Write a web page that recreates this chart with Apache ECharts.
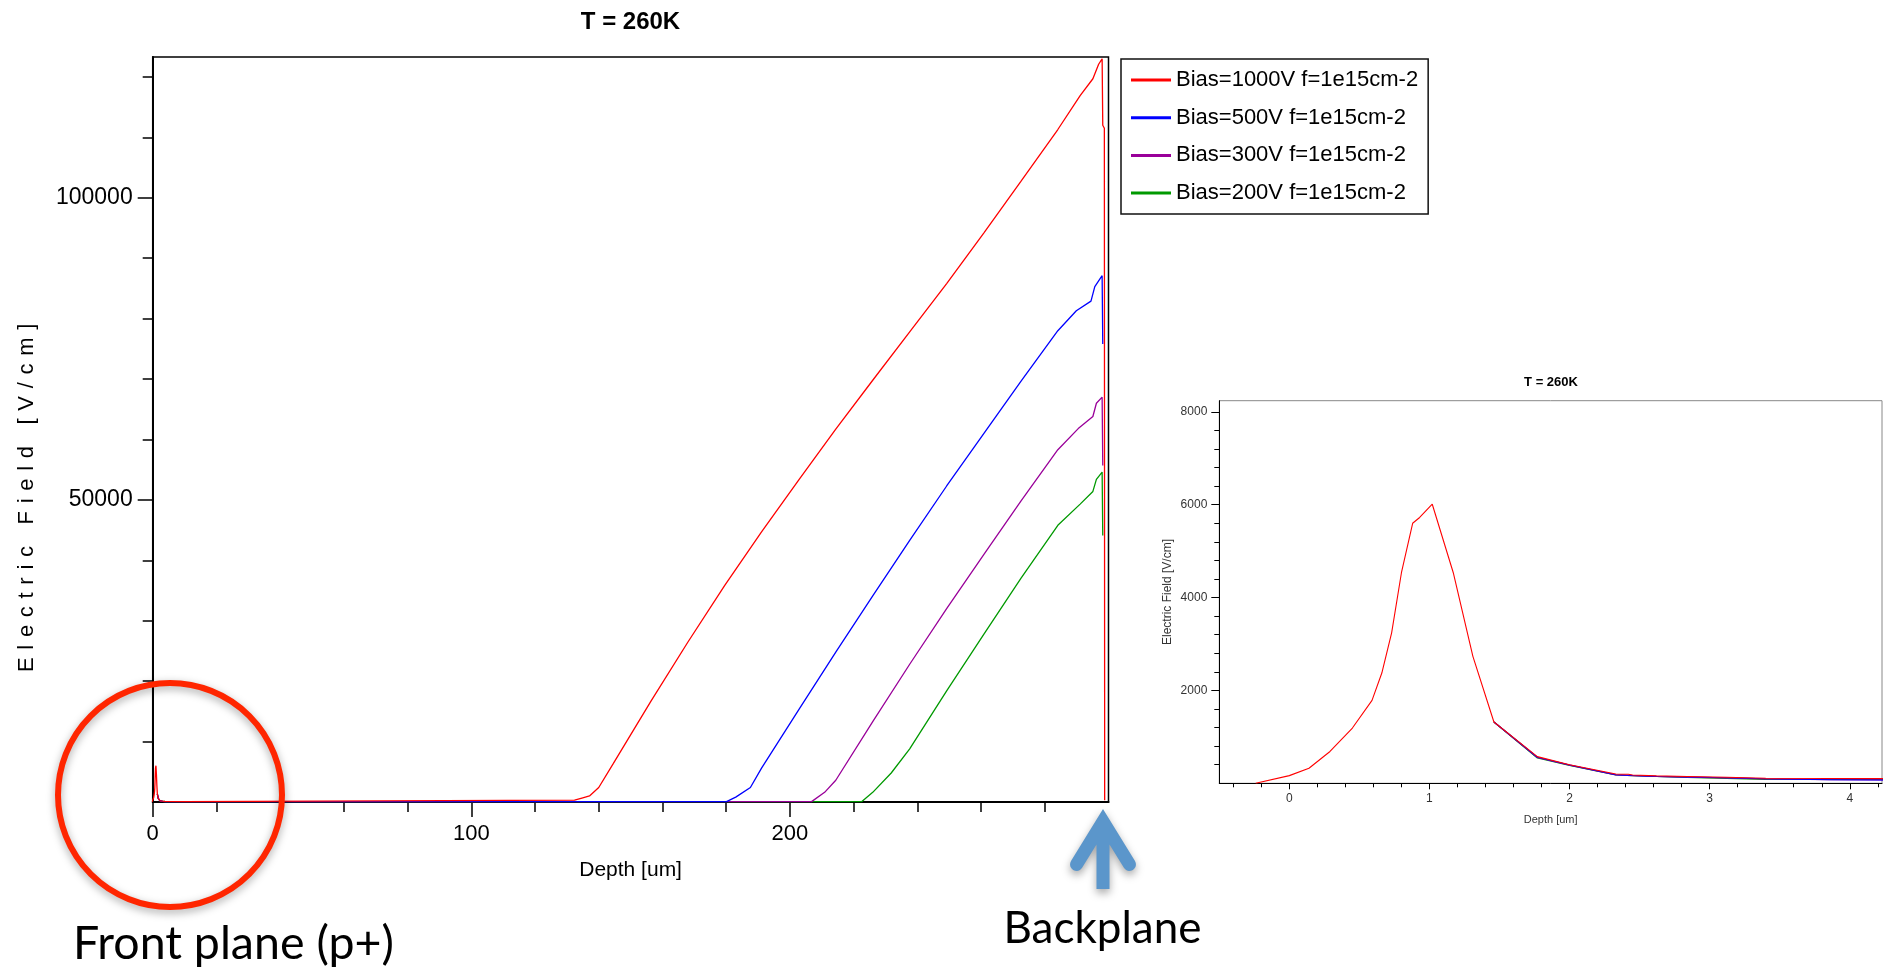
<!DOCTYPE html>
<html><head><meta charset="utf-8">
<script src="https://cdn.jsdelivr.net/npm/echarts@6/dist/echarts.min.js"></script>
<style>html,body{margin:0;padding:0;background:#fff}#c{position:absolute;left:0;top:0;width:1883px;height:968px}
#yl{position:absolute;left:0;top:0;width:60px;height:968px;letter-spacing:7.7px}</style>
</head><body><div id="c"></div><div id="yl"></div>
<script>
// ---------- data ----------
const seriesNames = ['Bias=1000V f=1e15cm-2', 'Bias=500V f=1e15cm-2', 'Bias=300V f=1e15cm-2', 'Bias=200V f=1e15cm-2'];
const seriesColors = ['#ff0000', '#0000ff', '#990099', '#009900'];

// p+ front-side peak (only the red curve is visible there)
const frontDepth = [-0.24, 0, 0.14, 0.29, 0.45, 0.59, 0.66, 0.73, 0.80, 0.88, 0.93, 1.02, 1.17, 1.31];
const frontField = [0, 165, 325, 685, 1190, 1785, 2375, 3240, 4535, 5600, 5725, 6010, 4535, 2735];

const redDepth = [1.46, 1.77, 2.0, 2.33, 2.42, 2.45, 2.62, 2.84, 3.12, 3.40, 3.86, 4.3, 10, 132.4, 135, 137.1, 140, 144.6, 156.3, 167.9, 179.5, 191.1, 202.8, 214.4, 226, 237.6, 249.2, 260.9, 272.5, 284.1, 291.1, 295.1, 296.9, 298.0, 298.2, 298.7, 298.8];
const redField = [1320, 575, 400, 200, 195, 180, 160, 145, 130, 110, 103, 100, 60, 300, 700, 1000, 2400, 6400, 16600, 26400, 35800, 44700, 53300, 61700, 69800, 77800, 85800, 94200, 102700, 111300, 116900, 119700, 122100, 123000, 112000, 111500, 300];

const blueDepth = [1.46, 1.77, 2.0, 2.33, 2.45, 2.62, 2.84, 3.12, 3.40, 3.86, 4.3, 10, 180.1, 183, 187.6, 191.1, 202.8, 214.4, 226, 237.6, 249.2, 260.9, 272.5, 284.1, 289.9, 294.5, 295.7, 298.0, 298.2];
const blueField = [1320, 560, 395, 185, 168, 150, 136, 120, 98, 78, 72, 60, 60, 800, 2400, 5600, 15300, 24800, 34100, 43300, 52300, 61000, 69600, 78000, 81300, 82900, 85300, 87100, 75800];

const purpleDepth = [1.46, 1.77, 2.0, 2.33, 2.45, 2.62, 2.84, 3.12, 3.40, 3.86, 4.3, 10, 206.8, 210.9, 214.4, 226, 237.6, 249.2, 260.9, 272.5, 284.1, 290.5, 295.1, 296.2, 298.0, 298.2];
const purpleField = [1320, 555, 392, 182, 165, 148, 133, 117, 95, 75, 70, 60, 60, 1600, 3600, 13300, 22800, 32000, 41000, 49800, 58300, 61800, 63800, 66000, 67000, 55700];

const greenDepth = [1.46, 1.77, 2.0, 2.33, 2.45, 2.62, 2.84, 3.12, 3.40, 3.86, 4.3, 10, 222.5, 226, 231.8, 237.6, 249.2, 260.9, 272.5, 284.1, 291.1, 295.1, 296.2, 298.0, 298.2];
const greenField = [1320, 545, 385, 178, 162, 146, 125, 105, 85, 82, 80, 60, 60, 1600, 4800, 8800, 18400, 27800, 37000, 45800, 49300, 51400, 53400, 54600, 44100];

// tick values
const mainXMajor = [0, 100, 200];
const mainXMinor = [20, 40, 60, 80, 120, 140, 160, 180, 220, 240, 260, 280];
const mainYMajor = [50000, 100000];
const mainYMinor = [10000, 20000, 30000, 40000, 60000, 70000, 80000, 90000, 110000, 120000];
const insetXMajor = [0, 1, 2, 3, 4];
const insetXMinor = [-0.4, -0.2, 0.2, 0.4, 0.6, 0.8, 1.2, 1.4, 1.6, 1.8, 2.2, 2.4, 2.6, 2.8, 3.2, 3.4, 3.6, 3.8, 4.2];
const insetYMajor = [2000, 4000, 6000, 8000];
const insetYMinor = [400, 800, 1200, 1600, 2400, 2800, 3200, 3600, 4400, 4800, 5200, 5600, 6400, 6800, 7200, 7600];

// ---------- build ----------
const FF = "'Liberation Sans', Arial, sans-serif";
function pairs(dx, dy) { return dx.map((d, i) => [d, dy[i]]); }
const allData = [
  pairs(frontDepth.concat(redDepth), frontField.concat(redField)),
  pairs(blueDepth, blueField),
  pairs(purpleDepth, purpleField),
  pairs(greenDepth, greenField)
];
const drawOrder = [3, 2, 1, 0]; // red drawn last (on top)
const series = [];
[0, 1].forEach(g => {
  drawOrder.forEach(i => {
    series.push({
      type: 'line', name: seriesNames[i], xAxisIndex: g * 2, yAxisIndex: g * 2,
      data: allData[i], showSymbol: false, symbol: 'none', clip: true,
      lineStyle: { color: seriesColors[i], width: g === 0 ? 1.3 : 1.1 },
      itemStyle: { color: seriesColors[i] }, emphasis: { disabled: true }
    });
  });
});

const plainNum = v => String(v);
function majorAxis(grid, min, max, ticks, len, labelOpt, extra) {
  return Object.assign({
    type: 'value', gridIndex: grid, min: min, max: max,
    axisLine: { show: true, onZero: false, lineStyle: { color: '#000', width: grid === 0 ? 2 : 1 } },
    axisTick: { show: true, customValues: ticks, length: len, lineStyle: { color: '#000', width: grid === 0 ? 1.5 : 1 } },
    axisLabel: Object.assign({ show: true, customValues: ticks, fontFamily: FF, formatter: plainNum }, labelOpt),
    splitLine: { show: false }
  }, extra || {});
}
function minorAxis(grid, min, max, ticks, len, pos) {
  return {
    type: 'value', gridIndex: grid, min: min, max: max, position: pos,
    axisLine: { show: false, onZero: false },
    axisTick: { show: true, customValues: ticks, length: len, lineStyle: { color: '#000', width: grid === 0 ? 1.5 : 1 } },
    axisLabel: { show: false }, splitLine: { show: false }
  };
}

// arrow polygon (annotation)
function arc(cx, cy, r, a0, a1, n) {
  const pts = [];
  for (let k = 0; k <= n; k++) { const a = (a0 + (a1 - a0) * k / n) * Math.PI / 180; pts.push([cx + r * Math.cos(a), cy + r * Math.sin(a)]); }
  return pts;
}
const arrowPts = [[1103, 809]]
  .concat(arc(1129.45, 864.4, 6.5, -31.5, 148.5, 10))
  .concat([[1109.5, 844.4], [1109.5, 889], [1096.5, 889], [1096.5, 844.4]])
  .concat(arc(1076.55, 864.4, 6.5, 31.5, 211.5, 10));

const option = {
  animation: false,
  backgroundColor: '#fff',
  title: [
    { text: 'T = 260K', left: 630.5, top: 10, textAlign: 'center', padding: 0,
      textStyle: { fontSize: 24, fontWeight: 'bold', fontFamily: FF, color: '#000' } },
    { text: 'T = 260K', left: 1551, top: 376, textAlign: 'center', padding: 0,
      textStyle: { fontSize: 13, fontWeight: 'bold', fontFamily: FF, color: '#000' } }
  ],
  legend: {
    data: seriesNames, orient: 'vertical', left: 1121, top: 59,
    icon: 'rect', itemWidth: 40, itemHeight: 3, itemGap: 15.7,
    padding: [10, 10, 10, 10], borderColor: '#111', borderWidth: 1.5, backgroundColor: '#fff',
    textStyle: { fontSize: 22, lineHeight: 22, color: '#000', fontFamily: FF },
    selectedMode: false
  },
  grid: [
    { left: 152.7, top: 57, right: 774.5, bottom: 166, show: true, borderColor: '#000', borderWidth: 1.5, containLabel: false },
    { left: 1219.3, top: 400.7, right: 1, bottom: 184.7, show: true, borderColor: '#888', borderWidth: 1, containLabel: false }
  ],
  xAxis: [
    majorAxis(0, 0, 300, mainXMajor, 15, { margin: 21, fontSize: 22, color: '#000' },
      { position: 'bottom', name: 'Depth [um]', nameLocation: 'middle', nameGap: 58,
        nameTextStyle: { fontSize: 21, fontFamily: FF, color: '#000' } }),
    minorAxis(0, 0, 300, mainXMinor, 10, 'bottom'),
    majorAxis(1, -0.5, 4.23, insetXMajor, 6, { margin: 9, fontSize: 12, color: '#333' },
      { position: 'bottom', name: 'Depth [um]', nameLocation: 'middle', nameGap: 31,
        nameTextStyle: { fontSize: 11, fontFamily: FF, color: '#333' } }),
    minorAxis(1, -0.5, 4.23, insetXMinor, 4, 'bottom')
  ],
  yAxis: [
    majorAxis(0, 0, 123300, mainYMajor, 15, { margin: 20, fontSize: 23, color: '#000' }, { position: 'left' }),
    minorAxis(0, 0, 123300, mainYMinor, 10, 'left'),
    majorAxis(1, 0, 8240, insetYMajor, 8, { margin: 12, fontSize: 12, color: '#333' },
      { position: 'left', name: 'Electric Field [V/cm]', nameLocation: 'middle', nameGap: 46,
        nameTextStyle: { fontSize: 12, fontFamily: FF, color: '#333' } }),
    minorAxis(1, 0, 8240, insetYMinor, 5, 'left')
  ],
  series: series,
  graphic: [
    { type: 'circle', z: 100, shape: { cx: 170, cy: 795, r: 112 },
      style: { fill: 'none', stroke: '#ff2600', lineWidth: 6, shadowBlur: 8, shadowColor: 'rgba(0,0,0,0.35)', shadowOffsetY: 3 } },
    { type: 'polygon', z: 100, shape: { points: arrowPts },
      style: { fill: '#5b96cb', shadowBlur: 8, shadowColor: 'rgba(0,0,0,0.35)', shadowOffsetY: 4 } },
    { type: 'text', z: 100, x: 1102.5, y: 929,
      style: { text: 'Backplane', font: "44px Lato, 'Open Sans', sans-serif", fill: '#000', textAlign: 'center', textVerticalAlign: 'middle' } },
    { type: 'text', z: 100, x: 73, y: 944,
      style: { text: 'Front plane (p+)', font: "46.5px Lato, 'Open Sans', sans-serif", fill: '#000', textAlign: 'left', textVerticalAlign: 'middle' } }
  ]
};
const chart = echarts.init(document.getElementById('c'), null, { renderer: 'canvas' });
chart.setOption(option);

// main y-axis title (the reference draws it letter-spaced)
const ylChart = echarts.init(document.getElementById('yl'), null, { renderer: 'canvas' });
ylChart.setOption({
  animation: false,
  graphic: [{ type: 'text', x: 27, y: 494, rotation: Math.PI / 2,
    style: { text: 'Electric Field [V/cm]', font: "22px 'Liberation Sans', Arial, sans-serif", fill: '#000', textAlign: 'center', textVerticalAlign: 'middle' } }]
});
</script>
</body></html>
